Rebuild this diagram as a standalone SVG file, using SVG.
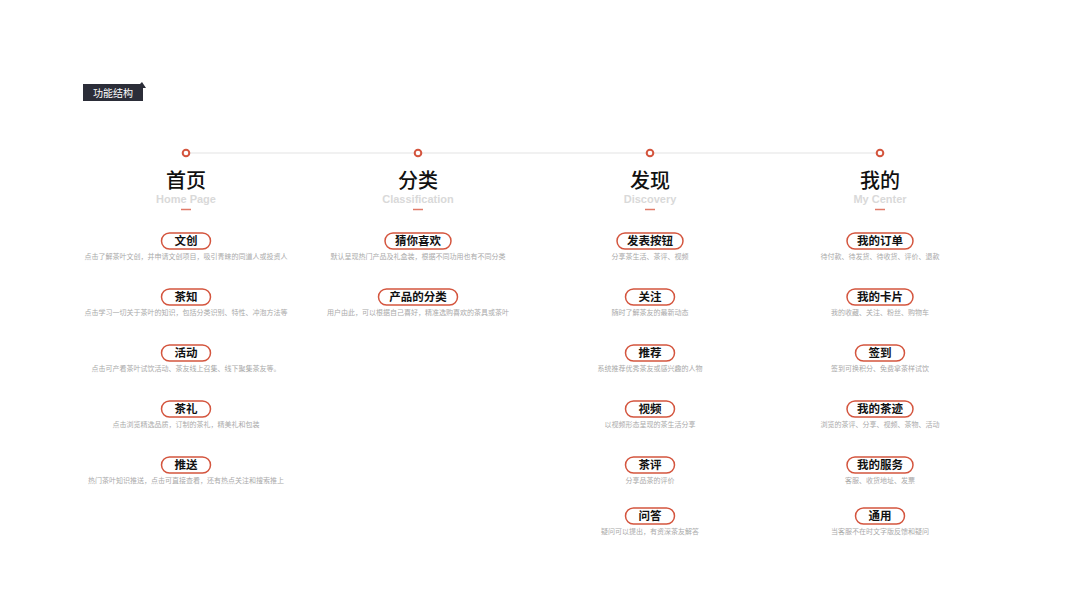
<svg xmlns="http://www.w3.org/2000/svg" width="1067" height="600" viewBox="0 0 1067 600">
<style>
.h{font-family:"Noto Sans CJK SC","Noto Sans",sans-serif;font-size:20px;font-weight:500;fill:#111;text-anchor:middle}
.en{font-family:"Liberation Sans",Arial,sans-serif;font-size:11px;font-weight:bold;fill:#d9d9d9;text-anchor:middle}
.pill{fill:#fff;stroke:#d4553e;stroke-width:1.5}
.pt{font-family:"Noto Sans CJK SC","Noto Sans",sans-serif;font-size:11.5px;font-weight:bold;fill:#111;text-anchor:middle}
.d{font-family:"Noto Sans CJK SC","Noto Sans",sans-serif;font-size:7px;fill:#aaaaaa;text-anchor:middle}
.dot{fill:#fff;stroke:#d4553e;stroke-width:2}
.dash{stroke:#e07a68;stroke-width:1.5}
</style>
<rect width="1067" height="600" fill="#fff"/>
<g id="tag">
<path d="M83,84 H140 L142,82 L146,88 L143,88 V101 H83 Z" fill="#2b2d38"/>
<text x="113" y="96.5" font-family="'Noto Sans CJK SC',sans-serif" font-size="10" fill="#fff" text-anchor="middle">功能结构</text>
</g>
<g id="connectors">
<line x1="186" y1="153" x2="880" y2="153" stroke="#e3e3e3" stroke-width="1.2"/>
</g>
<g id="col-home">
<circle class="dot" cx="186" cy="153" r="3.3"/>
<text class="h" x="186" y="188">首页</text>
<text class="en" x="186" y="202.5">Home Page</text>
<line class="dash" x1="181" y1="209.5" x2="191" y2="209.5"/>
<g id="n-wenchuang"><rect class="pill" x="161.5" y="233" width="49" height="16" rx="8"/><text class="pt" x="186" y="245">文创</text><text class="d" x="186" y="259">点击了解茶叶文创，并申请文创项目，吸引青睐的同道人或投资人</text></g>
<g id="n-chazhi"><rect class="pill" x="161.5" y="289" width="49" height="16" rx="8"/><text class="pt" x="186" y="301">茶知</text><text class="d" x="186" y="315">点击学习一切关于茶叶的知识，包括分类识别、特性、冲泡方法等</text></g>
<g id="n-huodong"><rect class="pill" x="161.5" y="345" width="49" height="16" rx="8"/><text class="pt" x="186" y="357">活动</text><text class="d" x="186" y="371">点击可产看茶叶试饮活动、茶友线上召集、线下聚集茶友等。</text></g>
<g id="n-chali"><rect class="pill" x="161.5" y="401" width="49" height="16" rx="8"/><text class="pt" x="186" y="413">茶礼</text><text class="d" x="186" y="427">点击浏览精选品质，订制的茶礼，精美礼和包装</text></g>
<g id="n-tuisong"><rect class="pill" x="161.5" y="457" width="49" height="16" rx="8"/><text class="pt" x="186" y="469">推送</text><text class="d" x="186" y="483">热门茶叶知识推送，点击可直接查看，还有热点关注和搜索推上</text></g>
</g>
<g id="col-class">
<circle class="dot" cx="418" cy="153" r="3.3"/>
<text class="h" x="418" y="188">分类</text>
<text class="en" x="418" y="202.5">Classification</text>
<line class="dash" x1="413" y1="209.5" x2="423" y2="209.5"/>
<g id="n-cai"><rect class="pill" x="385" y="233" width="66" height="16" rx="8"/><text class="pt" x="418" y="245">猜你喜欢</text><text class="d" x="418" y="259">默认呈现热门产品及礼盒装，根据不同功用也有不同分类</text></g>
<g id="n-fenlei"><rect class="pill" x="378.5" y="289" width="79" height="16" rx="8"/><text class="pt" x="418" y="301">产品的分类</text><text class="d" x="418" y="315">用户由此，可以根据自己喜好，精准选购喜欢的茶具或茶叶</text></g>
</g>
<g id="col-disc">
<circle class="dot" cx="650" cy="153" r="3.3"/>
<text class="h" x="650" y="188">发现</text>
<text class="en" x="650" y="202.5">Discovery</text>
<line class="dash" x1="645" y1="209.5" x2="655" y2="209.5"/>
<g id="n-fabiao"><rect class="pill" x="617" y="233" width="66" height="16" rx="8"/><text class="pt" x="650" y="245">发表按钮</text><text class="d" x="650" y="259">分享茶生活、茶评、视频</text></g>
<g id="n-guanzhu"><rect class="pill" x="625.5" y="289" width="49" height="16" rx="8"/><text class="pt" x="650" y="301">关注</text><text class="d" x="650" y="315">随时了解茶友的最新动态</text></g>
<g id="n-tuijian"><rect class="pill" x="625.5" y="345" width="49" height="16" rx="8"/><text class="pt" x="650" y="357">推荐</text><text class="d" x="650" y="371">系统推荐优秀茶友或感兴趣的人物</text></g>
<g id="n-shipin"><rect class="pill" x="625.5" y="401" width="49" height="16" rx="8"/><text class="pt" x="650" y="413">视频</text><text class="d" x="650" y="427">以视频形态呈现的茶生活分享</text></g>
<g id="n-chaping"><rect class="pill" x="625.5" y="457" width="49" height="16" rx="8"/><text class="pt" x="650" y="469">茶评</text><text class="d" x="650" y="483">分享品茶的评价</text></g>
<g id="n-wenda"><rect class="pill" x="625.5" y="508" width="49" height="16" rx="8"/><text class="pt" x="650" y="520">问答</text><text class="d" x="650" y="534">疑问可以提出，有资深茶友解答</text></g>
</g>
<g id="col-me">
<circle class="dot" cx="880" cy="153" r="3.3"/>
<text class="h" x="880" y="188">我的</text>
<text class="en" x="880" y="202.5">My Center</text>
<line class="dash" x1="875" y1="209.5" x2="885" y2="209.5"/>
<g id="n-dingdan"><rect class="pill" x="847" y="233" width="66" height="16" rx="8"/><text class="pt" x="880" y="245">我的订单</text><text class="d" x="880" y="259">待付款、待发货、待收货、评价、退款</text></g>
<g id="n-kapian"><rect class="pill" x="847" y="289" width="66" height="16" rx="8"/><text class="pt" x="880" y="301">我的卡片</text><text class="d" x="880" y="315">我的收藏、关注、粉丝、购物车</text></g>
<g id="n-qiandao"><rect class="pill" x="855.5" y="345" width="49" height="16" rx="8"/><text class="pt" x="880" y="357">签到</text><text class="d" x="880" y="371">签到可换积分、免费拿茶样试饮</text></g>
<g id="n-chaji"><rect class="pill" x="847" y="401" width="66" height="16" rx="8"/><text class="pt" x="880" y="413">我的茶迹</text><text class="d" x="880" y="427">浏览的茶评、分享、视频、茶物、活动</text></g>
<g id="n-fuwu"><rect class="pill" x="847" y="457" width="66" height="16" rx="8"/><text class="pt" x="880" y="469">我的服务</text><text class="d" x="880" y="483">客服、收货地址、发票</text></g>
<g id="n-tongyong"><rect class="pill" x="855.5" y="508" width="49" height="16" rx="8"/><text class="pt" x="880" y="520">通用</text><text class="d" x="880" y="534">当客服不在时文字版反馈和疑问</text></g>
</g>
</svg>
